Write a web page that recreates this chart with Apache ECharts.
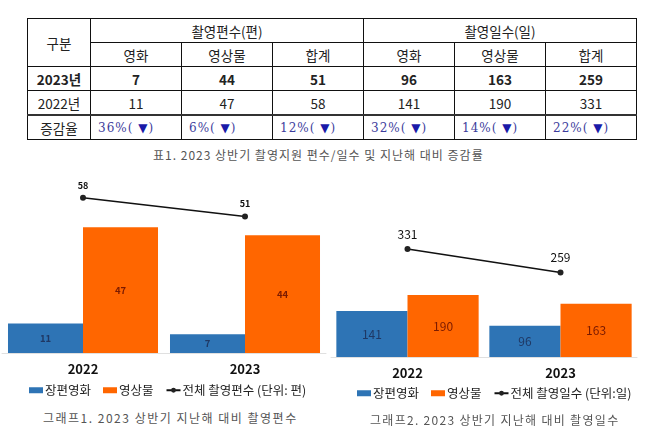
<!DOCTYPE html>
<html>
<head>
<meta charset="utf-8">
<script src="https://cdn.jsdelivr.net/npm/echarts@6/dist/echarts.min.js"></script>
<style>
  body { margin: 0; width: 658px; height: 434px; background: #fff; position: relative; overflow: hidden;
    font-family: "Noto Sans CJK KR", sans-serif; }
  table { position: absolute; left: 27px; top: 18px; border-collapse: collapse; table-layout: fixed;
    font-size: 13.5px; color: #222; }
  td { border: 1px solid #111; text-align: center; padding: 0; height: 23px; line-height: 22px; }
  tr.bold td { font-weight: bold; }
  tr.pct td { border-top: 2px solid #333; color: #3c3c9c; font-family: "DejaVu Serif", serif; font-size: 12px; letter-spacing: 1px; }
  tr.pct td.first { color: #222; font-family: "Noto Sans CJK KR", sans-serif; font-size: 13.5px; letter-spacing: 0; }
  .tri { color: #1a1aa8; font-size: 12px; }
  .cap { position: absolute; color: #555; font-size: 12px; white-space: nowrap; letter-spacing: 1px; }
  #c1 { position: absolute; left: 0; top: 160px; width: 330px; height: 245px; }
  #c2 { position: absolute; left: 328px; top: 160px; width: 330px; height: 245px; }
</style>
</head>
<body>
<table id="tbl"></table>
<div class="cap" id="cap0" style="left:153px; top:146px;"></div>
<div id="c1"></div>
<div id="c2"></div>
<div class="cap" id="cap1" style="left:43px; top:409px; letter-spacing:1.5px;"></div>
<div class="cap" id="cap2" style="left:370px; top:411px; letter-spacing:1.3px;"></div>
<script>
// ---- data ----
const years = ["2022", "2023"];
const filmCount = [11, 7];
const videoCount = [47, 44];
const totalCount = [58, 51];
const filmDays = [141, 96];
const videoDays = [190, 163];
const totalDays = [331, 259];

const groupHeads = ["촬영편수(편)", "촬영일수(일)"];
const subHeads = ["영화", "영상물", "합계"];
const rowLabels = ["2023년", "2022년", "증감율"];
const row2023 = ["7", "44", "51", "96", "163", "259"];
const row2022 = ["11", "47", "58", "141", "190", "331"];
const rowRate = ["36%", "6%", "12%", "32%", "14%", "22%"];

const caption0 = "표1. 2023 상반기 촬영지원 편수/일수 및 지난해 대비 증감률";
const caption1 = "그래프1. 2023 상반기 지난해 대비 촬영편수";
const caption2 = "그래프2. 2023 상반기 지난해 대비 촬영일수";

// ---- table ----
const colW = [63, 91, 91, 91, 91, 91, 91];
let html = "<colgroup>" + colW.map(w => '<col style="width:' + w + 'px">').join("") + "</colgroup>";
html += '<tr><td rowspan="2">구분</td><td colspan="3">' + groupHeads[0] + '</td><td colspan="3">' + groupHeads[1] + "</td></tr>";
html += "<tr>" + subHeads.concat(subHeads).map(s => "<td>" + s + "</td>").join("") + "</tr>";
html += '<tr class="bold"><td>' + rowLabels[0] + "</td>" + row2023.map(v => "<td>" + v + "</td>").join("") + "</tr>";
html += "<tr><td>" + rowLabels[1] + "</td>" + row2022.map(v => "<td>" + v + "</td>").join("") + "</tr>";
html += '<tr class="pct"><td class="first">' + rowLabels[2] + "</td>" +
  rowRate.map(v => '<td style="text-align:left;padding-left:7px">' + v + '( <span class="tri">▼</span>)</td>').join("") + "</tr>";
document.getElementById("tbl").innerHTML = html;
document.getElementById("cap0").textContent = caption0;
document.getElementById("cap1").textContent = caption1;
document.getElementById("cap2").textContent = caption2;

// ---- charts ----
const font = "Noto Sans CJK KR";
const blue = "#2e74b5";
const orange = "#ff6600";

function makeOption(cfg) {
  return {
    animation: false,
    textStyle: { fontFamily: font },
    legend: {
      left: cfg.legendLeft, top: cfg.legendTop,
      itemWidth: 14, itemHeight: 6, itemGap: 12,
      textStyle: { fontFamily: font, fontSize: 12.5, color: "#222", padding: [0, 0, 0, -3] },
      data: [
        { name: "장편영화", icon: "rect" },
        { name: "영상물", icon: "rect" },
        { name: cfg.lineName }
      ]
    },
    grid: cfg.grid,
    xAxis: {
      type: "category", data: years,
      axisLine: { show: true, lineStyle: { color: "#e0e0e0" } },
      axisTick: { show: false },
      axisLabel: { fontFamily: font, fontWeight: "bold", fontSize: 13, color: "#111", margin: 10 }
    },
    yAxis: { type: "value", show: false, min: 0, max: cfg.max, splitLine: { show: false } },
    series: [
      {
        name: "장편영화", type: "bar", data: cfg.film, barGap: 0, barCategoryGap: cfg.catGap,
        itemStyle: { color: blue },
        label: { show: true, position: "inside", color: "#1f3864", fontSize: cfg.labelSize, fontWeight: cfg.labelWeight }
      },
      {
        name: "영상물", type: "bar", data: cfg.video,
        itemStyle: { color: orange },
        label: { show: true, position: "inside", color: "#7a1a00", fontSize: cfg.labelSize, fontWeight: cfg.labelWeight }
      },
      {
        name: cfg.lineName, type: "line", data: cfg.total,
        symbol: "circle", symbolSize: 6,
        itemStyle: { color: "#222" }, lineStyle: { color: "#111", width: 1.5 },
        label: { show: true, position: "top", distance: cfg.lineDist, color: "#111", fontSize: cfg.lineLabelSize, fontWeight: cfg.labelWeight }
      }
    ]
  };
}

echarts.init(document.getElementById("c1")).setOption(makeOption({
  film: filmCount, video: videoCount, total: totalCount,
  lineName: "전체 촬영편수 (단위: 편)",
  max: 65, grid: { left: 2, right: 4, top: 19, bottom: 52 }, catGap: "7.4%",
  legendLeft: 24, legendTop: 219,
  labelSize: 9.5, labelWeight: "bold", lineLabelSize: 9, lineDist: 5
}));

echarts.init(document.getElementById("c2")).setOption(makeOption({
  film: filmDays, video: videoDays, total: totalDays,
  lineName: "전체 촬영일수 (단위:일)",
  max: 500, grid: { left: 3, right: 21, top: 34, bottom: 48 }, catGap: "7%",
  legendLeft: 24, legendTop: 222,
  labelSize: 12, labelWeight: "normal", lineLabelSize: 12, lineDist: 6
}));
</script>
</body>
</html>
